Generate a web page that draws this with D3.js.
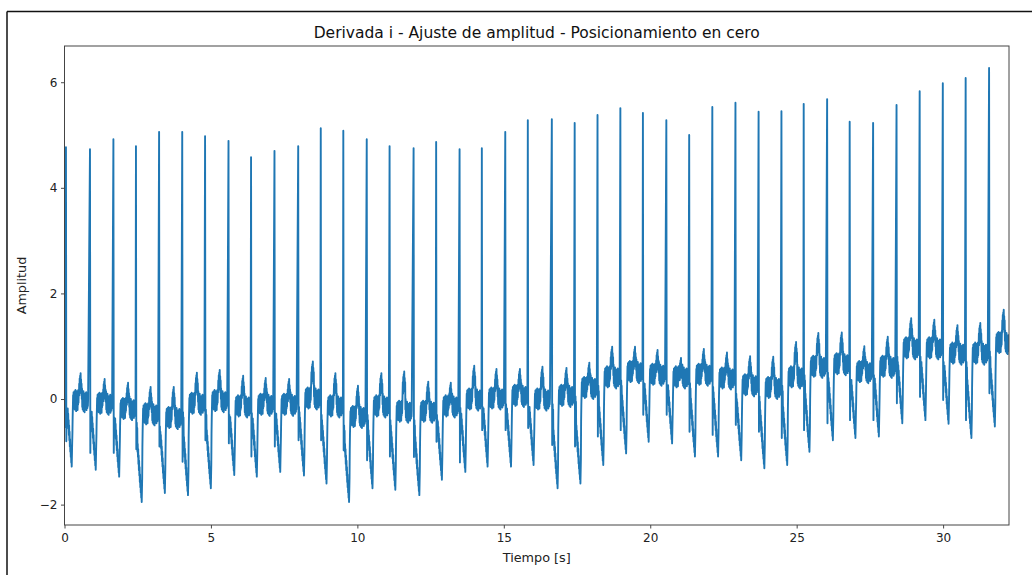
<!DOCTYPE html>
<html>
<head>
<meta charset="utf-8">
<script src="https://cdn.jsdelivr.net/npm/d3@7"></script>
<style>
  html, body { margin: 0; padding: 0; background: #fff; }
  svg { display: block; font-family: "DejaVu Sans", sans-serif; }
</style>
</head>
<body>
<svg id="chart" width="1032" height="575"></svg>
<script>
// R-peak instants (s) of lead I, one per beat
const beatTimes = [0.05, 0.87, 1.67, 2.44, 3.23, 4.02, 4.80, 5.60, 6.37, 7.17,
  7.98, 8.75, 9.52, 10.32, 11.10, 11.92, 12.69, 13.49, 14.25, 15.05,
  15.82, 16.64, 17.42, 18.20, 18.98, 19.75, 20.55, 21.33, 22.12, 22.91,
  23.70, 24.48, 25.24, 26.04, 26.81, 27.61, 28.41, 29.20, 29.99, 30.77, 31.57];

// R-peak amplitude of each beat
const peakHeights = [4.77, 4.73, 4.92, 4.79, 5.06, 5.06, 4.98, 4.89, 4.58, 4.70,
  4.79, 5.13, 5.08, 4.92, 4.79, 4.75, 4.87, 4.73, 4.75, 5.06,
  5.28, 5.30, 5.23, 5.38, 5.51, 5.42, 5.28, 5.00, 5.53, 5.61,
  5.44, 5.45, 5.59, 5.68, 5.25, 5.23, 5.57, 5.83, 5.98, 6.08, 6.27];

// lowest point of the sharp drop right after each R peak
const sDips = [-0.80, -1.02, -1.02, -0.95, -0.90, -1.19, -0.78, -0.84, -1.09, -0.90,
  -0.78, -0.78, -0.97, -1.16, -1.09, -1.10, -0.81, -1.20, -0.59, -0.59,
  -0.55, -0.87, -0.90, -0.71, -0.59, -0.30, -0.30, -0.62, -0.68, -0.49,
  -0.62, -0.74, -0.59, -0.46, -0.40, -0.40, -0.08, 0.04, -0.02, -0.40, 0.11];

// trough reached ~0.2 s after each R peak
const troughs = [-1.28, -1.34, -1.47, -1.95, -1.78, -1.82, -1.69, -1.44, -1.47, -1.38,
  -1.45, -1.60, -1.95, -1.69, -1.72, -1.82, -1.53, -1.38, -1.28, -1.28,
  -1.25, -1.69, -1.60, -1.25, -1.03, -0.81, -0.84, -1.09, -1.09, -1.16,
  -1.31, -1.25, -1.00, -0.78, -0.74, -0.71, -0.46, -0.40, -0.47, -0.74, -0.52];

// centre of the noisy plateau between the trough and the next R peak
const plateaus = [-0.05, -0.10, -0.20, -0.30, -0.37, -0.10, -0.05, -0.15, -0.12, -0.12,
  0.00, -0.15, -0.35, -0.15, -0.25, -0.25, -0.15, -0.02, 0.00, 0.05,
  -0.02, 0.05, 0.20, 0.40, 0.50, 0.45, 0.40, 0.45, 0.38, 0.25,
  0.20, 0.40, 0.60, 0.65, 0.50, 0.60, 0.95, 0.95, 0.85, 0.85, 1.05];

// top of the small wave that precedes the next R peak
const bumps = [0.49, 0.38, 0.31, 0.23, 0.23, 0.50, 0.55, 0.44, 0.40, 0.38,
  0.71, 0.49, 0.25, 0.49, 0.52, 0.33, 0.31, 0.63, 0.57, 0.57,
  0.61, 0.59, 0.69, 0.99, 0.99, 0.93, 0.78, 0.95, 0.88, 0.81,
  0.80, 1.08, 1.25, 1.26, 1.00, 1.18, 1.53, 1.50, 1.40, 1.44, 1.69];

// samples before the first R peak
const leadIn = [[0.000, -0.55], [0.015, -0.20], [0.030, 0.10], [0.040, -0.10]];

// beat outline: [seconds after R, reference level, offset from that level]
const beatShape = [
  [0.000, "h", 0], [0.012, "s", 0], [0.020, "b", -0.35], [0.028, "b", -0.15],
  [0.036, "b", -0.45], [0.044, "b", -0.25], [0.052, "m", 0.95], [0.060, "m", 1.10],
  [0.068, "m", 0.85], [0.076, "m", 1.00], [0.084, "m", 0.72], [0.092, "m", 0.88],
  [0.100, "m", 0.60], [0.108, "m", 0.78], [0.116, "m", 0.50], [0.124, "m", 0.66],
  [0.132, "m", 0.38], [0.140, "m", 0.52], [0.148, "m", 0.28], [0.156, "m", 0.40],
  [0.164, "m", 0.18], [0.172, "m", 0.30], [0.180, "m", 0.08], [0.188, "m", 0.18],
  [0.196, "m", 0.00], [0.204, "m", 0.22], [0.212, "m", 0.45], [0.220, "b", -0.60],
  [0.228, "b", -0.30], [0.236, "b", -0.10], [0.244, "b", 0.12], [0.252, "b", -0.05],
  [0.260, "b", 0.18], [0.268, "b", -0.12], [0.276, "b", 0.15], [0.284, "b", -0.08],
  [0.292, "b", 0.20], [0.300, "b", -0.15], [0.308, "b", 0.12], [0.316, "b", -0.10],
  [0.324, "b", 0.22], [0.332, "b", -0.05], [0.340, "b", 0.15], [0.348, "b", -0.18],
  [0.356, "b", 0.10], [0.364, "b", -0.08], [0.372, "b", 0.20], [0.380, "b", -0.12],
  [0.388, "b", 0.14], [0.396, "b", -0.16], [0.404, "b", 0.10], [0.412, "b", -0.06],
  [0.420, "b", 0.22], [0.428, "b", -0.02], [0.436, "b", 0.18], [0.444, "p", -0.40],
  [0.452, "p", -0.20], [0.460, "p", -0.42], [0.468, "p", -0.10], [0.476, "p", -0.35],
  [0.484, "p", -0.05], [0.492, "p", -0.28], [0.500, "p", 0.00], [0.508, "p", -0.30],
  [0.516, "p", -0.12], [0.524, "p", -0.38], [0.532, "p", -0.20], [0.540, "b", 0.05],
  [0.548, "b", 0.25], [0.556, "b", -0.10], [0.564, "b", 0.18], [0.572, "b", -0.15],
  [0.580, "b", 0.12], [0.588, "b", -0.08], [0.596, "b", 0.20], [0.604, "b", -0.18],
  [0.612, "b", 0.10], [0.620, "b", -0.05], [0.628, "b", 0.15], [0.636, "b", -0.20],
  [0.644, "b", 0.05], [0.652, "b", -0.10], [0.660, "b", 0.16], [0.668, "b", -0.14],
  [0.676, "b", 0.12], [0.684, "b", -0.08], [0.692, "b", 0.18], [0.700, "b", -0.16],
  [0.708, "b", 0.08], [0.716, "b", -0.10], [0.724, "b", 0.14], [0.732, "b", -0.12],
  [0.740, "b", 0.10], [0.748, "b", -0.08], [0.756, "b", 0.05]
];

const xTicks = [0, 5, 10, 15, 20, 25, 30];
const yTicks = [-2, 0, 2, 4, 6];
const tEnd = 32.25;

const levels = { h: peakHeights, s: sDips, m: troughs, b: plateaus, p: bumps };

// assemble the trace sample by sample
const samples = leadIn.map(([t, v]) => ({ t, v }));
beatTimes.forEach((tr, i) => {
  const next = i < beatTimes.length - 1 ? beatTimes[i + 1] : Infinity;
  beatShape.forEach(([dt, key, off]) => {
    const t = tr + dt;
    if (t >= next - 0.006 || t > tEnd) return;
    samples.push({ t, v: levels[key][i] + off });
  });
});

const svg = d3.select("#chart");
const W = 1032, H = 575;
const m = { left: 64.5, right: 1009, top: 46, bottom: 525 };

// outer frame lines
svg.append("line").attr("x1", 7).attr("x2", W).attr("y1", 11.5).attr("y2", 11.5)
  .attr("stroke", "#111").attr("stroke-width", 1.5);
svg.append("line").attr("x1", 7).attr("x2", 7).attr("y1", 11.5).attr("y2", H)
  .attr("stroke", "#111").attr("stroke-width", 1.5);

const x = d3.scaleLinear().domain([0, tEnd]).range([m.left, m.right]);
const y = d3.scaleLinear().domain([-2.386, 6.686]).range([m.bottom, m.top]);

svg.append("defs").append("clipPath").attr("id", "plotArea")
  .append("rect").attr("x", m.left).attr("y", m.top)
  .attr("width", m.right - m.left).attr("height", m.bottom - m.top);

const line = d3.line().x(d => x(d.t)).y(d => y(d.v));
svg.append("path")
  .datum(samples)
  .attr("clip-path", "url(#plotArea)")
  .attr("fill", "none")
  .attr("stroke", "#1f77b4")
  .attr("stroke-width", 1.9)
  .attr("stroke-linejoin", "round")
  .attr("d", line);

// axes
const xAxis = svg.append("g").attr("transform", `translate(0,${m.bottom})`)
  .call(d3.axisBottom(x).tickValues(xTicks).tickFormat(d3.format("d")).tickSizeInner(3.5).tickSizeOuter(0));
const yAxis = svg.append("g").attr("transform", `translate(${m.left},0)`)
  .call(d3.axisLeft(y).tickValues(yTicks).tickFormat(d3.format("d")).tickSizeInner(3.5).tickSizeOuter(0));
[xAxis, yAxis].forEach(g => {
  g.select(".domain").remove();
  g.selectAll(".tick line").attr("stroke", "#333").attr("stroke-width", 0.9);
  g.selectAll(".tick text").attr("fill", "#222").style("font-size", "12px")
    .style("font-family", "'DejaVu Sans', sans-serif");
});
xAxis.selectAll(".tick text").attr("dy", "0.71em").attr("y", 8.5);
yAxis.selectAll(".tick text").attr("x", -7);

// plot frame
svg.append("rect").attr("x", m.left).attr("y", m.top)
  .attr("width", m.right - m.left).attr("height", m.bottom - m.top)
  .attr("fill", "none").attr("stroke", "#444").attr("stroke-width", 1);

// titles
svg.append("text").attr("x", (m.left + m.right) / 2).attr("y", 37.5)
  .attr("text-anchor", "middle").attr("fill", "#111").style("font-size", "15.5px")
  .text("Derivada i - Ajuste de amplitud - Posicionamiento en cero");
svg.append("text").attr("x", (m.left + m.right) / 2).attr("y", 562)
  .attr("text-anchor", "middle").attr("fill", "#222").style("font-size", "12.8px")
  .text("Tiempo [s]");
svg.append("text").attr("transform", `translate(26,${(m.top + m.bottom) / 2}) rotate(-90)`)
  .attr("text-anchor", "middle").attr("fill", "#222").style("font-size", "12.8px")
  .text("Amplitud");
</script>
</body>
</html>
